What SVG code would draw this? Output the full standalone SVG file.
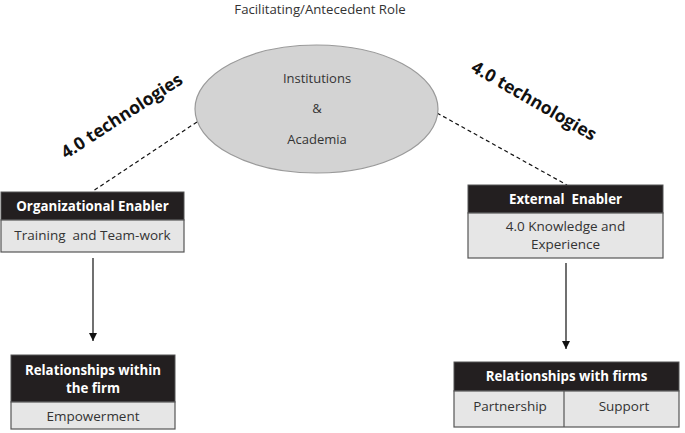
<svg xmlns="http://www.w3.org/2000/svg" width="685" height="433" viewBox="0 0 685 433">
<defs>
<marker id="arr" viewBox="0 0 10 10" refX="10" refY="5" markerWidth="8" markerHeight="8" markerUnits="userSpaceOnUse" orient="auto">
<path d="M0,0 L10,5 L0,10 z" fill="#111"/>
</marker>
</defs>
<style>
text{font-family:"Open Sans","Noto Sans","Liberation Sans",sans-serif;text-anchor:middle;white-space:pre;}
.hd{fill:#231f20;stroke:#555;stroke-width:1;}
.bd{fill:#e6e6e6;stroke:#555;stroke-width:1.2;}
.ht{fill:#fff;font-weight:bold;font-size:13.3px;}
.bt{fill:#333;font-size:13.5px;}
.dash{stroke:#111;stroke-width:1.2;stroke-dasharray:4,3;fill:none;}
.solid{stroke:#111;stroke-width:1.2;fill:none;}
.tech{font-weight:bold;font-size:17.5px;fill:#111;}
</style>
<rect width="685" height="433" fill="#fff"/>
<text x="320" y="14" style="font-size:13.2px;fill:#333">Facilitating/Antecedent Role</text>
<text class="tech" transform="translate(125,121) rotate(-33)">4.0 technologies</text>
<text class="tech" transform="translate(531,106) rotate(30)">4.0 technologies</text>
<g id="connectors">
<line class="dash" x1="197" y1="122" x2="93" y2="191"/>
<line class="dash" x1="437" y1="113" x2="567" y2="185"/>
<line class="solid" x1="93" y1="258" x2="93" y2="341" marker-end="url(#arr)"/>
<line class="solid" x1="566" y1="263" x2="566" y2="349" marker-end="url(#arr)"/>
</g>
<g id="institutions">
<ellipse cx="316.5" cy="109" rx="121.5" ry="64" fill="#d3d3d3" stroke="#9a9a9a" stroke-width="1.2"/>
<text x="317" y="83" class="bt" style="font-size:13px">Institutions</text>
<text x="317" y="113" class="bt" style="font-size:13px">&amp;</text>
<text x="317" y="144" class="bt" style="font-size:13px">Academia</text>
</g>
<g id="org-enabler">
<rect class="hd" x="1" y="192" width="183" height="28"/>
<rect class="bd" x="1" y="220" width="183" height="32"/>
<text x="92.5" y="211" class="ht">Organizational Enabler</text>
<text x="92.5" y="240" class="bt">Training  and Team-work</text>
</g>
<g id="ext-enabler">
<rect class="hd" x="468" y="185" width="195" height="28"/>
<rect class="bd" x="468" y="213" width="195" height="45"/>
<text x="565.5" y="204" class="ht">External  Enabler</text>
<text x="565.5" y="231" class="bt">4.0 Knowledge and</text>
<text x="565.5" y="249" class="bt">Experience</text>
</g>
<g id="within-firm">
<rect class="hd" x="11" y="355" width="164" height="47"/>
<rect class="bd" x="11" y="402" width="164" height="27"/>
<text x="93" y="375" class="ht">Relationships within</text>
<text x="93" y="393" class="ht">the firm</text>
<text x="93" y="421" class="bt">Empowerment</text>
</g>
<g id="with-firms">
<rect class="hd" x="454" y="362" width="225" height="29"/>
<rect class="bd" x="454" y="391" width="225" height="36"/>
<line x1="564" y1="391" x2="564" y2="427" stroke="#555" stroke-width="1.2"/>
<text x="566.5" y="381" class="ht">Relationships with firms</text>
<text x="510" y="411" class="bt">Partnership</text>
<text x="624" y="411" class="bt">Support</text>
</g>
</svg>
